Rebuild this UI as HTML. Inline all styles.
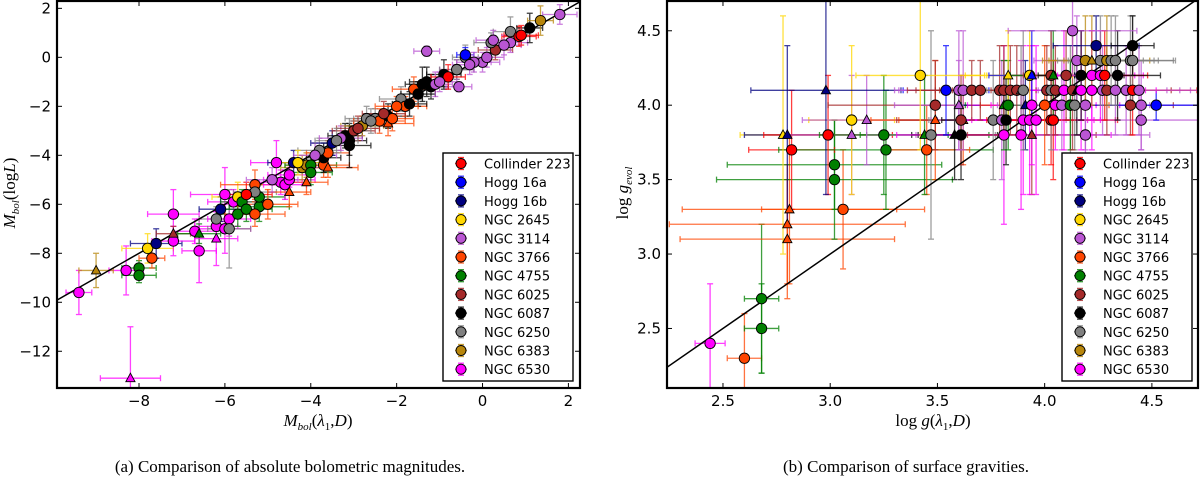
<!DOCTYPE html>
<html><head><meta charset="utf-8">
<style>
html,body{margin:0;padding:0;background:#fff;width:1200px;height:478px;overflow:hidden}
svg{display:block}
.tk{font-family:"DejaVu Sans","Liberation Sans",sans-serif;font-size:15px;fill:#000}
.lg{font-family:"DejaVu Sans","Liberation Sans",sans-serif;font-size:13px;fill:#000}
.ser{font-family:"Liberation Serif",serif;fill:#000}
</style></head><body>
<svg id="fig" width="1200" height="478" xmlns="http://www.w3.org/2000/svg">
<text class="ser" x="290" y="472" font-size="17" text-anchor="middle">(a)  Comparison of absolute bolometric magnitudes.</text>
<text class="ser" x="906" y="472" font-size="17" text-anchor="middle">(b)  Comparison of surface gravities.</text>
</svg>
<script>
const clusters = ["Collinder 223","Hogg 16a","Hogg 16b","NGC 2645","NGC 3114","NGC 3766","NGC 4755","NGC 6025","NGC 6087","NGC 6250","NGC 6383","NGC 6530"];
const colors = ["#ff0000","#0000ff","#000080","#ffd700","#ba55d3","#ff4500","#008000","#a52a2a","#000000","#808080","#b8860b","#ff00ff"];

// Panel A data: x, y, xerr, yerr, cluster index, marker (0 circle, 1 triangle)
const aX = [-9.4,-8.3,-8.2,-8.0,-8.0,-7.7,-7.8,-7.6,-9.0,-7.2,-7.2,-7.2,-6.7,-6.6,-6.6,-6.2,-6.2,-6.2,-6.0,-5.9,-6.0,-5.9,-5.8,-6.1,-5.7,-5.7,-5.6,-5.5,-5.2,-5.2,-5.3,-5.0,-5.3,-5.3,-4.8,-4.7,-4.6,-4.5,-4.5,-4.5,-4.4,-4.2,-4.1,-4.0,-4.0,-4.1,-3.7,-3.6,-3.7,-3.6,-3.8,-3.9,-3.5,-3.1,-3.1,-3.2,-3.0,-2.8,-2.7,-2.5,-2.4,-2.2,-2.2,-2.1,-1.9,-1.8,-1.7,-1.6,-1.4,-1.3,-1.2,-1.5,-1.3,-0.9,-0.6,-0.55,-0.6,-0.4,-0.4,0.0,0.1,0.3,0.2,0.65,0.65,0.25,0.85,1.1,1.35,1.8,-3.3,-2.9,-2.6,-2.0,-1.1,-0.8,-0.2,0.5,-4.3,-3.4,-2.3,-1.0,-5.5,-4.9,-0.3,0.9];
const aY = [-9.6,-8.7,-13.1,-8.6,-8.9,-8.2,-7.8,-7.6,-8.7,-6.4,-7.5,-7.2,-7.1,-7.9,-7.2,-6.9,-7.4,-6.6,-5.6,-6.6,-7.0,-7.0,-5.9,-6.2,-5.7,-6.4,-5.9,-6.2,-6.1,-5.7,-6.4,-6.0,-5.2,-5.5,-4.3,-5.1,-5.2,-5.0,-4.8,-5.5,-4.3,-4.5,-4.4,-4.4,-4.7,-5.1,-4.4,-4.5,-4.1,-3.9,-3.8,-4.0,-3.5,-3.6,-3.4,-3.2,-3.0,-2.8,-2.5,-2.5,-2.6,-2.4,-2.7,-2.5,-1.7,-2.0,-1.9,-1.3,-1.1,-1.0,-1.2,-1.5,0.25,-0.7,-0.5,-1.2,-0.5,0.0,0.1,-0.2,0.0,0.3,0.6,1.05,0.6,0.7,0.85,1.2,1.5,1.75,-3.3,-2.9,-2.6,-2.0,-1.1,-0.8,-0.2,0.5,-4.3,-3.4,-2.3,-1.0,-5.6,-5.0,-0.3,0.9];
const aXE = [0.3,0.4,0.7,0.4,0.4,0.3,0.6,0.6,0.4,0.6,0.5,0.4,0.5,0.4,0.5,0.5,0.5,0.4,0.8,0.5,0.6,0.5,0.6,0.5,0.6,0.5,0.5,0.6,0.7,0.6,0.7,0.7,0.8,0.5,0.6,0.5,0.5,0.6,0.5,0.5,0.6,0.5,0.5,0.6,0.5,0.5,0.6,0.7,0.4,0.5,0.5,0.5,0.5,0.5,0.4,0.4,0.5,0.5,0.5,0.5,0.6,0.4,0.6,0.5,0.5,0.5,0.4,0.5,0.4,0.4,0.4,0.4,0.3,0.4,0.4,0.3,0.4,0.3,0.2,0.4,0.4,0.4,0.4,0.4,0.4,0.4,0.4,0.3,0.3,0.4,0.5,0.5,0.5,0.5,0.4,0.4,0.4,0.4,0.5,0.5,0.5,0.4,0.6,0.6,0.4,0.4];
const aYE = [0.9,1.0,2.1,0.3,0.3,0.4,0.6,0.6,0.7,1.0,0.6,0.3,0.5,1.3,0.4,0.6,1.1,0.5,1.1,0.7,1.0,1.6,0.5,0.5,0.6,0.5,0.5,0.5,0.6,0.5,0.5,0.6,0.6,0.5,0.9,0.5,0.6,0.5,0.5,0.6,0.5,0.5,0.5,0.4,0.5,0.5,0.5,0.4,0.6,0.5,0.5,0.5,0.5,0.9,0.6,0.5,0.4,0.4,0.5,0.4,0.5,0.5,0.5,0.5,0.5,0.4,0.5,0.5,0.7,0.6,0.5,0.5,0.2,0.6,0.4,0.2,0.4,0.5,0.3,0.4,0.4,0.4,0.4,0.6,0.4,0.4,0.4,0.6,0.6,0.4,0.5,0.5,0.5,0.4,0.5,0.5,0.4,0.4,0.5,0.5,0.5,0.4,0.5,0.5,0.4,0.4];
const aC = [11,11,11,6,6,5,3,2,10,11,11,7,11,11,6,11,11,9,11,11,11,9,11,2,3,6,6,6,6,6,5,5,5,9,11,11,11,11,11,5,2,10,10,6,6,5,5,5,8,5,9,4,2,8,8,8,7,10,9,9,5,8,5,5,9,5,8,5,8,8,8,8,4,8,4,4,9,9,1,4,4,7,9,9,4,4,0,8,10,4,4,7,9,5,4,0,4,4,3,9,7,4,0,4,4,0];
const aM = [0,0,1,0,0,0,0,0,1,0,0,1,0,0,1,0,1,0,0,0,0,0,0,0,0,0,0,0,0,0,0,0,0,0,0,0,0,0,0,1,0,0,0,0,0,1,0,1,0,0,0,0,0,0,0,0,0,0,0,0,0,0,1,0,0,0,0,0,0,0,0,0,0,0,0,0,0,0,0,0,0,0,0,0,0,0,0,0,0,0,0,0,0,0,0,0,0,0,0,0,0,0,0,0,0,0];

// Panel B data
const bX = [2.44,2.60,2.68,2.68,2.80,2.80,2.81,3.06,3.02,3.02,2.82,3.26,3.45,2.78,2.80,2.99,3.10,3.25,3.44,3.47,3.58,3.61,3.81,3.89,3.94,4.19,3.10,3.17,3.49,3.62,3.61,3.76,3.80,3.82,3.90,3.93,3.96,4.03,4.04,4.45,3.49,3.60,3.81,3.83,3.91,3.94,4.00,4.05,4.08,4.12,4.12,4.14,4.19,4.40,4.45,4.52,2.98,3.54,3.60,3.62,3.66,3.70,3.79,3.81,3.84,3.87,3.89,3.90,4.01,4.03,4.05,4.09,4.13,4.15,4.17,4.22,4.27,4.29,4.33,4.38,4.41,4.44,3.42,3.83,3.93,3.94,4.03,4.04,4.10,4.17,4.22,4.26,4.28,4.34,4.15,4.19,4.22,4.26,4.29,4.31,4.33,4.40,4.41,4.24,4.41,4.13];
const bY = [2.4,2.3,2.5,2.7,3.1,3.2,3.3,3.3,3.5,3.6,3.7,3.7,3.7,3.8,3.8,3.8,3.8,3.8,3.8,3.8,3.8,3.8,3.8,3.8,3.8,3.8,3.9,3.9,3.9,3.9,3.9,3.9,3.9,3.9,3.9,3.9,3.9,3.9,3.9,3.9,4.0,4.0,4.0,4.0,4.0,4.0,4.0,4.0,4.0,4.0,4.0,4.0,4.0,4.0,4.0,4.0,4.1,4.1,4.1,4.1,4.1,4.1,4.1,4.1,4.1,4.1,4.1,4.1,4.1,4.1,4.1,4.1,4.1,4.1,4.1,4.1,4.1,4.1,4.1,4.1,4.1,4.1,4.2,4.2,4.2,4.2,4.2,4.2,4.2,4.2,4.2,4.2,4.2,4.2,4.3,4.3,4.3,4.3,4.3,4.3,4.3,4.3,4.3,4.4,4.4,4.5];
const bXE = [0.07,0.08,0.08,0.08,0.5,0.55,0.5,0.38,0.55,0.5,0.2,0.5,0.2,0.2,0.2,0.3,0.3,0.3,0.3,0.3,0.2,0.2,0.5,0.3,0.3,0.3,0.2,0.3,0.3,0.3,0.3,0.3,0.3,0.3,0.3,0.3,0.3,0.3,0.3,0.3,0.5,0.3,0.2,0.2,0.3,0.3,0.3,0.3,0.3,0.3,0.3,0.3,0.3,0.2,0.3,0.3,0.35,0.2,0.3,0.3,0.3,0.3,0.3,0.3,0.3,0.3,0.3,0.3,0.3,0.3,0.3,0.3,0.3,0.3,0.3,0.3,0.3,0.3,0.3,0.3,0.3,0.3,0.3,0.2,0.2,0.2,0.2,0.2,0.2,0.2,0.2,0.2,0.2,0.2,0.2,0.2,0.2,0.2,0.2,0.2,0.2,0.2,0.2,0.2,0.1,0.3];
const bYE = [0.4,0.3,0.3,0.5,0.4,0.4,0.5,0.4,0.4,0.3,0.4,0.4,0.3,0.8,0.6,0.4,0.4,0.4,0.4,0.7,0.3,0.3,0.6,0.5,0.4,0.3,0.5,0.3,0.4,0.3,0.3,0.4,0.4,0.3,0.5,0.5,0.5,0.3,0.4,0.2,0.3,0.3,0.3,0.3,0.3,0.4,0.4,0.3,0.3,0.4,0.3,0.3,0.3,0.2,0.3,0.1,0.7,0.3,0.4,0.4,0.2,0.2,0.3,0.3,0.3,0.3,0.3,0.4,0.3,0.4,0.3,0.4,0.4,0.3,0.4,0.4,0.3,0.3,0.3,0.3,0.3,0.3,0.5,0.3,0.3,0.3,0.3,0.3,0.3,0.3,0.3,0.3,0.3,0.3,0.3,0.3,0.3,0.3,0.3,0.3,0.3,0.3,0.3,0.2,0.2,0.3];
const bC = [11,5,6,6,5,5,5,5,6,6,0,6,5,3,2,0,4,6,6,9,8,8,11,11,7,4,3,4,5,5,7,9,4,8,11,11,11,0,0,4,7,4,6,6,2,11,5,11,4,9,6,9,4,7,4,1,2,1,4,4,7,7,7,7,7,7,9,9,7,9,7,11,7,8,11,11,4,7,4,4,0,4,3,3,3,1,7,6,7,8,11,11,0,8,4,10,10,9,10,9,9,9,9,2,8,4];
const bM = [0,0,0,0,1,1,1,0,0,0,0,0,0,1,1,0,1,0,1,0,1,0,0,0,1,0,0,1,1,1,0,0,0,0,0,0,0,0,0,0,0,1,1,0,1,0,0,0,0,0,0,0,0,0,0,0,1,0,0,0,0,0,0,0,0,0,1,0,0,0,0,0,0,1,0,0,0,0,0,0,0,0,0,1,0,1,0,1,0,0,0,0,0,0,0,0,1,0,0,0,0,0,0,0,0,0];

const aTicksX = [-8,-6,-4,-2,0,2];
const aTicksY = [2,0,-2,-4,-6,-8,-10,-12];
const bTicksX = [2.5,3.0,3.5,4.0,4.5];
const bTicksY = [4.5,4.0,3.5,3.0,2.5];

const NS = "http://www.w3.org/2000/svg";
const fig = document.getElementById('fig');
function mk(tag, attrs, parent){
  const e = document.createElementNS(NS, tag);
  for (const k in attrs) e.setAttribute(k, attrs[k]);
  (parent||fig).appendChild(e);
  return e;
}
function marker(g, cx, cy, c, m){
  let e;
  if (m===0){ e = mk('circle',{cx:cx,cy:cy,r:5.2,fill:c,stroke:'#000','stroke-width':0.9},g); }
  else { e = mk('polygon',{points:`${cx},${cy-5} ${cx-4.6},${cy+3.5} ${cx+4.6},${cy+3.5}`,fill:c,stroke:'#000','stroke-width':0.9},g); }
  return e;
}
function panel(id, box, xr, yr, X, Y, XE, YE, C, M, tx, ty, tfmt, leg){
  const sx = v => box.x0 + (v-xr[0])/(xr[1]-xr[0])*(box.x1-box.x0);
  const sy = v => box.y1 - (v-yr[0])/(yr[1]-yr[0])*(box.y1-box.y0);
  const g = mk('g',{});
  
  
  const cp = mk('clipPath',{id:id+'clip'},g);
  mk('rect',{x:box.x0,y:box.y0,width:box.x1-box.x0,height:box.y1-box.y0},cp);
  const data = mk('g',{'clip-path':`url(#${id}clip)`},g);
  for (let i=0;i<X.length;i++){
    const c = colors[C[i]];
    const eb = mk('g',{stroke:c,'stroke-width':1.3,opacity:0.75},data);
    
    
    const x=sx(X[i]), y=sy(Y[i]), xl=sx(X[i]-XE[i]), xh=sx(X[i]+XE[i]), yl=sy(Y[i]-YE[i]), yh=sy(Y[i]+YE[i]);
    mk('line',{x1:xl,y1:y,x2:xh,y2:y},eb);
    mk('line',{x1:x,y1:yl,x2:x,y2:yh},eb);
    mk('line',{x1:xl,y1:y-3,x2:xl,y2:y+3},eb);
    mk('line',{x1:xh,y1:y-3,x2:xh,y2:y+3},eb);
    mk('line',{x1:x-3,y1:yl,x2:x+3,y2:yl},eb);
    mk('line',{x1:x-3,y1:yh,x2:x+3,y2:yh},eb);
  }
  const lo = Math.max(xr[0],yr[0]), hi = Math.min(xr[1],yr[1]);
  const dl = mk('line',{x1:sx(lo),y1:sy(lo),x2:sx(hi),y2:sy(hi),stroke:'#000','stroke-width':1.5},data);
  
  
  for (let i=0;i<X.length;i++){
    const p = marker(data, sx(X[i]), sy(Y[i]), colors[C[i]], M[i]);
    
    
  }
  const fr = mk('rect',{x:box.x0,y:box.y0,width:box.x1-box.x0,height:box.y1-box.y0,fill:'none',stroke:'#000','stroke-width':2.2},g);
  
  
  for (const v of tx){
    const x = sx(v);
    mk('line',{x1:x,y1:box.y1,x2:x,y2:box.y1-5,stroke:'#000','stroke-width':1},g);
    mk('line',{x1:x,y1:box.y0,x2:x,y2:box.y0+5,stroke:'#000','stroke-width':1},g);
    const t = mk('text',{x:x,y:box.y1+18,'text-anchor':'middle',class:'tk'},g);
    
    
    t.textContent = tfmt(v);
  }
  for (const v of ty){
    const y = sy(v);
    mk('line',{x1:box.x0,y1:y,x2:box.x0+5,y2:y,stroke:'#000','stroke-width':1},g);
    mk('line',{x1:box.x1,y1:y,x2:box.x1-5,y2:y,stroke:'#000','stroke-width':1},g);
    const t = mk('text',{x:box.x0-6,y:y+5,'text-anchor':'end',class:'tk'},g);
    
    
    t.textContent = tfmt(v);
  }
  const lg = mk('g',{},g);
  
  
  mk('rect',{x:leg.x,y:153,width:130,height:228,fill:'#fff',stroke:'#000','stroke-width':1.4},lg);
  for (let k=0;k<clusters.length;k++){
    const y = 163.5 + k*18.7, mx = leg.x+18;
    const en = mk('g',{},lg);
    
    
    mk('line',{x1:mx-6,y1:y,x2:mx+6,y2:y,stroke:colors[k],'stroke-width':1.3,opacity:0.8},en);
    mk('line',{x1:mx,y1:y-6,x2:mx,y2:y+6,stroke:colors[k],'stroke-width':1.3,opacity:0.8},en);
    mk('line',{x1:mx-3,y1:y-6,x2:mx+3,y2:y-6,stroke:colors[k],'stroke-width':1.3,opacity:0.8},en);
    mk('line',{x1:mx-3,y1:y+6,x2:mx+3,y2:y+6,stroke:colors[k],'stroke-width':1.3,opacity:0.8},en);
    mk('circle',{cx:mx,cy:y,r:5,fill:colors[k],stroke:'#000','stroke-width':0.9},en);
    const t = mk('text',{x:leg.x+41,y:y+5,class:'lg'},en);
    t.textContent = clusters[k];
  }
}
const fmtA = v => (v<0?'\u2212':'')+Math.abs(v);
const fmtB = v => v.toFixed(1);
panel('magnitudes',{x0:57,x1:580,y0:1,y1:388},[-9.91,2.27],[-13.5,2.3],aX,aY,aXE,aYE,aC,aM,aTicksX,aTicksY,fmtA,{x:443});
panel('gravities',{x0:667,x1:1198,y0:1,y1:388},[2.239,4.715],[2.1,4.7],bX,bY,bXE,bYE,bC,bM,bTicksX,bTicksY,fmtB,{x:1062});

let t = mk('text',{x:318,y:426,'text-anchor':'middle',class:'ser','font-size':17});


t.innerHTML = '<tspan font-style="italic">M</tspan><tspan font-style="italic" font-size="11" dy="4">bol</tspan><tspan dy="-4">(</tspan><tspan font-style="italic">λ</tspan><tspan font-size="11" dy="4">1</tspan><tspan dy="-4">,</tspan><tspan font-style="italic">D</tspan>)';
t = mk('text',{x:0,y:0,'text-anchor':'middle',class:'ser','font-size':17,transform:'translate(15,193) rotate(-90)'});


t.innerHTML = '<tspan font-style="italic">M</tspan><tspan font-style="italic" font-size="11" dy="4">bol</tspan><tspan dy="-4">(log</tspan><tspan font-style="italic">L</tspan>)';
t = mk('text',{x:933,y:426,'text-anchor':'middle',class:'ser','font-size':17});


t.innerHTML = 'log <tspan font-style="italic">g</tspan>(<tspan font-style="italic">λ</tspan><tspan font-size="11" dy="4">1</tspan><tspan dy="-4">,</tspan><tspan font-style="italic">D</tspan>)';
t = mk('text',{x:0,y:0,'text-anchor':'middle',class:'ser','font-size':17,transform:'translate(628,193) rotate(-90)'});


t.innerHTML = 'log <tspan font-style="italic">g</tspan><tspan font-style="italic" font-size="11" dy="4">evol</tspan>';
</script>
</body></html>
